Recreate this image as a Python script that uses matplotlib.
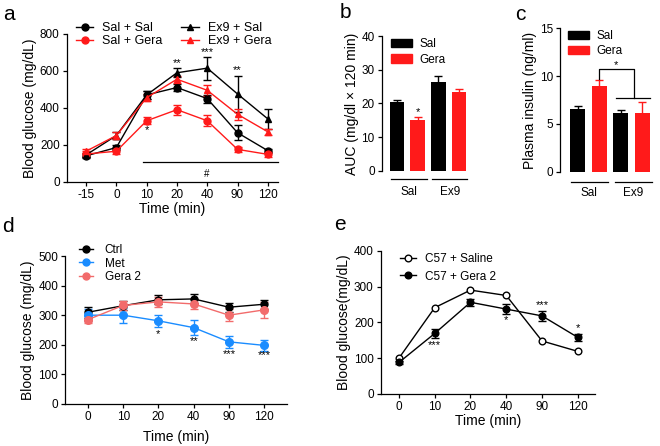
import matplotlib
matplotlib.use("Agg")
import matplotlib.pyplot as plt
from matplotlib.lines import Line2D
from matplotlib.patches import Patch

plt.rcParams['font.family'] = ['Liberation Sans', 'DejaVu Sans']
plt.rcParams['axes.linewidth'] = 0.9
plt.rcParams['xtick.major.width'] = 0.9
plt.rcParams['ytick.major.width'] = 0.9
plt.rcParams['xtick.major.size'] = 3
plt.rcParams['ytick.major.size'] = 3

RED = '#ff1a1a'
BLUE = '#1a8cff'
SALMON = '#f26b6b'

# panel a: glucose tolerance, Sal/Ex9 x Sal/Gera
time_a = ['-15', '0', '10', '20', '40', '90', '120']
sal_sal = [140, 185, 470, 510, 450, 265, 168]
sal_sal_err = [10, 12, 20, 20, 22, 40, 10]
sal_gera = [150, 165, 330, 390, 330, 175, 148]
sal_gera_err = [15, 15, 18, 28, 30, 12, 15]
ex9_sal = [145, 250, 470, 590, 615, 475, 340]
ex9_sal_err = [10, 20, 20, 25, 62, 95, 55]
ex9_gera = [165, 250, 455, 555, 495, 365, 270]
ex9_gera_err = [12, 20, 20, 20, 30, 30, 15]

# panel b: AUC
auc_groups = ['Sal', 'Ex9']
auc_sal = [20.5, 26.5]
auc_sal_err = [0.6, 1.8]
auc_gera = [15.1, 23.3]
auc_gera_err = [1.0, 0.9]

# panel c: plasma insulin
ins_sal = [6.6, 6.1]
ins_sal_err = [0.25, 0.4]
ins_gera = [9.0, 6.15]
ins_gera_err = [0.55, 1.1]

# panel d: Ctrl / Met / Gera 2
time_d = ['0', '10', '20', '40', '90', '120']
ctrl = [310, 332, 352, 355, 327, 337]
ctrl_err = [18, 15, 15, 15, 15, 15]
met = [300, 300, 281, 258, 210, 198]
met_err = [20, 25, 20, 25, 20, 18]
gera2 = [285, 333, 345, 338, 300, 318]
gera2_err = [12, 15, 18, 18, 20, 28]

# panel e: C57 saline vs Gera 2
c57_saline = [100, 241, 290, 275, 148, 119]
c57_gera = [88, 169, 256, 237, 218, 158]
c57_gera_err = [5, 13, 10, 13, 13, 9]

fig = plt.figure(figsize=(6.6, 4.46), dpi=100)

TICK = 8.5
LAB = 10


def style(ax):
    ax.spines['top'].set_visible(False)
    ax.spines['right'].set_visible(False)
    ax.tick_params(labelsize=TICK, pad=2)


def curve(ax, y, err, color, marker, ms=5):
    x = range(len(y))
    ax.errorbar(x, y, yerr=err, color=color, marker=marker, ms=ms, lw=1,
                capsize=3, elinewidth=1, capthick=1, mfc=color, mec=color)


# ---- a ----
ax = fig.add_axes([0.101, 0.5926, 0.32, 0.3312])
style(ax)
curve(ax, sal_sal, sal_sal_err, 'black', 'o')
curve(ax, sal_gera, sal_gera_err, RED, 'o')
curve(ax, ex9_sal, ex9_sal_err, 'black', '^')
curve(ax, ex9_gera, ex9_gera_err, RED, '^')
ax.set_xticks(range(len(time_a)))
ax.set_xticklabels(time_a)
ax.set_xlim(-0.64, 6.33)
ax.set_ylim(0, 800)
ax.set_yticks([0, 200, 400, 600, 800])
ax.set_xlabel('Time (min)', fontsize=LAB, labelpad=1)
ax.set_ylabel('Blood glucose (mg/dL)', fontsize=LAB, labelpad=2)
ax.plot([1.89, 6.32], [105, 105], color='black', lw=0.9, clip_on=False)
ax.text(3.98, 40, '#', fontsize=7, ha='center', va='center')
for xi, yi, s in [(2, 280, '*'), (3, 640, '**'), (4, 700, '***'), (5, 605, '**')]:
    ax.text(xi, yi, s, fontsize=8, ha='center', va='center')
h = [Line2D([], [], color=c, marker=m, ms=5, lw=1) for c, m in
     [('black', 'o'), (RED, 'o'), ('black', '^'), (RED, '^')]]
ax.legend(h, ['Sal + Sal', 'Sal + Gera', 'Ex9 + Sal', 'Ex9 + Gera'], ncol=2,
          frameon=False, fontsize=9, loc='upper left', bbox_to_anchor=(0.02, 1.115),
          handlelength=1.4, handletextpad=0.7, columnspacing=1.5, labelspacing=0.1,
          borderaxespad=0)
fig.text(0.005, 0.955, 'a', fontsize=15, va='baseline')


def bars(ax, sal, sal_err, gera, gera_err):
    x = [0, 2]
    ax.bar(x, sal, width=0.7, color='black', yerr=sal_err,
           error_kw=dict(ecolor='black', capsize=3, lw=1, capthick=1))
    ax.bar([v + 1 for v in x], gera, width=0.7, color=RED, yerr=gera_err,
           error_kw=dict(ecolor=RED, capsize=3, lw=1, capthick=1))
    ax.spines['bottom'].set_visible(False)
    ax.set_xticks([])


def group_lines(ax, spans, yline, ylab):
    tr = ax.get_xaxis_transform()
    for (x0, x1), lab in zip(spans, auc_groups):
        ax.plot([x0, x1], [yline, yline], color='black', lw=0.9,
                transform=tr, clip_on=False)
        ax.text((x0 + x1) / 2, ylab, lab, transform=tr, fontsize=TICK,
                ha='center', va='center')


# ---- b ----
ax = fig.add_axes([0.5783, 0.617, 0.134, 0.302])
style(ax)
bars(ax, auc_sal, auc_sal_err, auc_gera, auc_gera_err)
ax.set_xlim(-0.74, 3.54)
ax.set_ylim(0, 40)
ax.set_yticks([0, 10, 20, 30, 40])
ax.set_ylabel('AUC (mg/dl × 120 min)', fontsize=LAB, labelpad=2)
ax.text(1, 17.5, '*', fontsize=8, ha='center', va='center')
group_lines(ax, [(-0.29, 1.46), (1.7, 3.4)], -0.062, -0.158)
ax.legend([Patch(color='black'), Patch(color=RED)], ['Sal', 'Gera'],
          frameon=False, fontsize=8.5, loc='upper left', bbox_to_anchor=(0.05, 1.02),
          handlelength=1.8, handleheight=0.7, handletextpad=0.6, labelspacing=0.3,
          borderaxespad=0)
fig.text(0.515, 0.959, 'b', fontsize=15, va='baseline')

# ---- c ----
ax = fig.add_axes([0.8485, 0.615, 0.151, 0.3215])
style(ax)
bars(ax, ins_sal, ins_sal_err, ins_gera, ins_gera_err)
ax.set_xlim(-0.81, 3.8)
ax.set_ylim(0, 15)
ax.set_yticks([0, 5, 10, 15])
ax.set_ylabel('Plasma insulin (ng/ml)', fontsize=LAB, labelpad=2)
ax.plot([1, 1, 2.62, 2.62], [9.75, 10.7, 10.7, 7.67], color='black', lw=0.9, clip_on=False)
ax.plot([1.77, 3.37], [7.67, 7.67], color='black', lw=0.9, clip_on=False)
ax.text(1.8, 11.15, '*', fontsize=8, ha='center', va='center')
group_lines(ax, [(-0.3, 1.4), (1.73, 3.43)], -0.07, -0.149)
ax.legend([Patch(color='black'), Patch(color=RED)], ['Sal', 'Gera'],
          frameon=False, fontsize=8.5, loc='upper left', bbox_to_anchor=(0.03, 1.02),
          handlelength=1.8, handleheight=0.7, handletextpad=0.6, labelspacing=0.25,
          borderaxespad=0)
fig.text(0.780, 0.955, 'c', fontsize=15, va='baseline')

# ---- d ----
ax = fig.add_axes([0.0985, 0.0942, 0.3365, 0.3318])
style(ax)
curve(ax, ctrl, ctrl_err, 'black', 'o')
curve(ax, met, met_err, BLUE, 'o', ms=5.5)
curve(ax, gera2, gera2_err, SALMON, 'o', ms=5.5)
ax.set_xticks(range(len(time_d)))
ax.set_xticklabels(time_d)
ax.set_xlim(-0.65, 5.65)
ax.set_ylim(0, 500)
ax.set_yticks([0, 100, 200, 300, 400, 500])
ax.set_xlabel('Time (min)', fontsize=LAB, labelpad=5)
ax.set_ylabel('Blood glucose (mg/dL)', fontsize=LAB, labelpad=2)
for xi, yi, s in [(2, 236, '*'), (3, 214, '**'), (4, 170, '***'), (5, 164, '***')]:
    ax.text(xi, yi, s, fontsize=8, ha='center', va='center')
h = [Line2D([], [], color=c, marker='o', ms=5, lw=1) for c in ['black', BLUE, SALMON]]
ax.legend(h, ['Ctrl', 'Met', 'Gera 2'], frameon=False, fontsize=8.5, loc='upper left',
          bbox_to_anchor=(0.04, 1.11), handlelength=1.2, handletextpad=1.0,
          labelspacing=0.1, borderaxespad=0)
fig.text(0.003, 0.480, 'd', fontsize=15, va='baseline')

# ---- e ----
ax = fig.add_axes([0.5768, 0.1166, 0.3247, 0.3213])
style(ax)
x = range(len(c57_saline))
ax.plot(x, c57_saline, color='black', marker='o', ms=4.8, lw=1, mfc='white')
ax.errorbar(x, c57_gera, yerr=c57_gera_err, color='black', marker='o', ms=4.8, lw=1,
            capsize=3, elinewidth=1, capthick=1)
ax.set_xticks(range(len(time_d)))
ax.set_xticklabels(time_d)
ax.set_xlim(-0.51, 5.48)
ax.set_ylim(0, 400)
ax.set_yticks([0, 100, 200, 300, 400])
ax.set_xlabel('Time (min)', fontsize=LAB, labelpad=1)
ax.set_ylabel('Blood glucose(mg/dL)', fontsize=LAB, labelpad=2)
for xi, yi, s in [(1, 137, '***'), (3, 206, '*'), (4, 248, '***'), (5, 183, '*')]:
    ax.text(xi, yi, s, fontsize=8, ha='center', va='center')
h = [Line2D([], [], color='black', marker='o', ms=4.8, lw=1, mfc='white'),
     Line2D([], [], color='black', marker='o', ms=4.8, lw=1)]
ax.legend(h, ['C57 + Saline', 'C57 + Gera 2'], frameon=False, fontsize=8.5,
          loc='upper left', bbox_to_anchor=(0.07, 1.015), handlelength=1.3,
          handletextpad=0.8, labelspacing=0.45, borderaxespad=0)
fig.text(0.507, 0.484, 'e', fontsize=15, va='baseline')

fig.savefig('out.png', dpi=100)
